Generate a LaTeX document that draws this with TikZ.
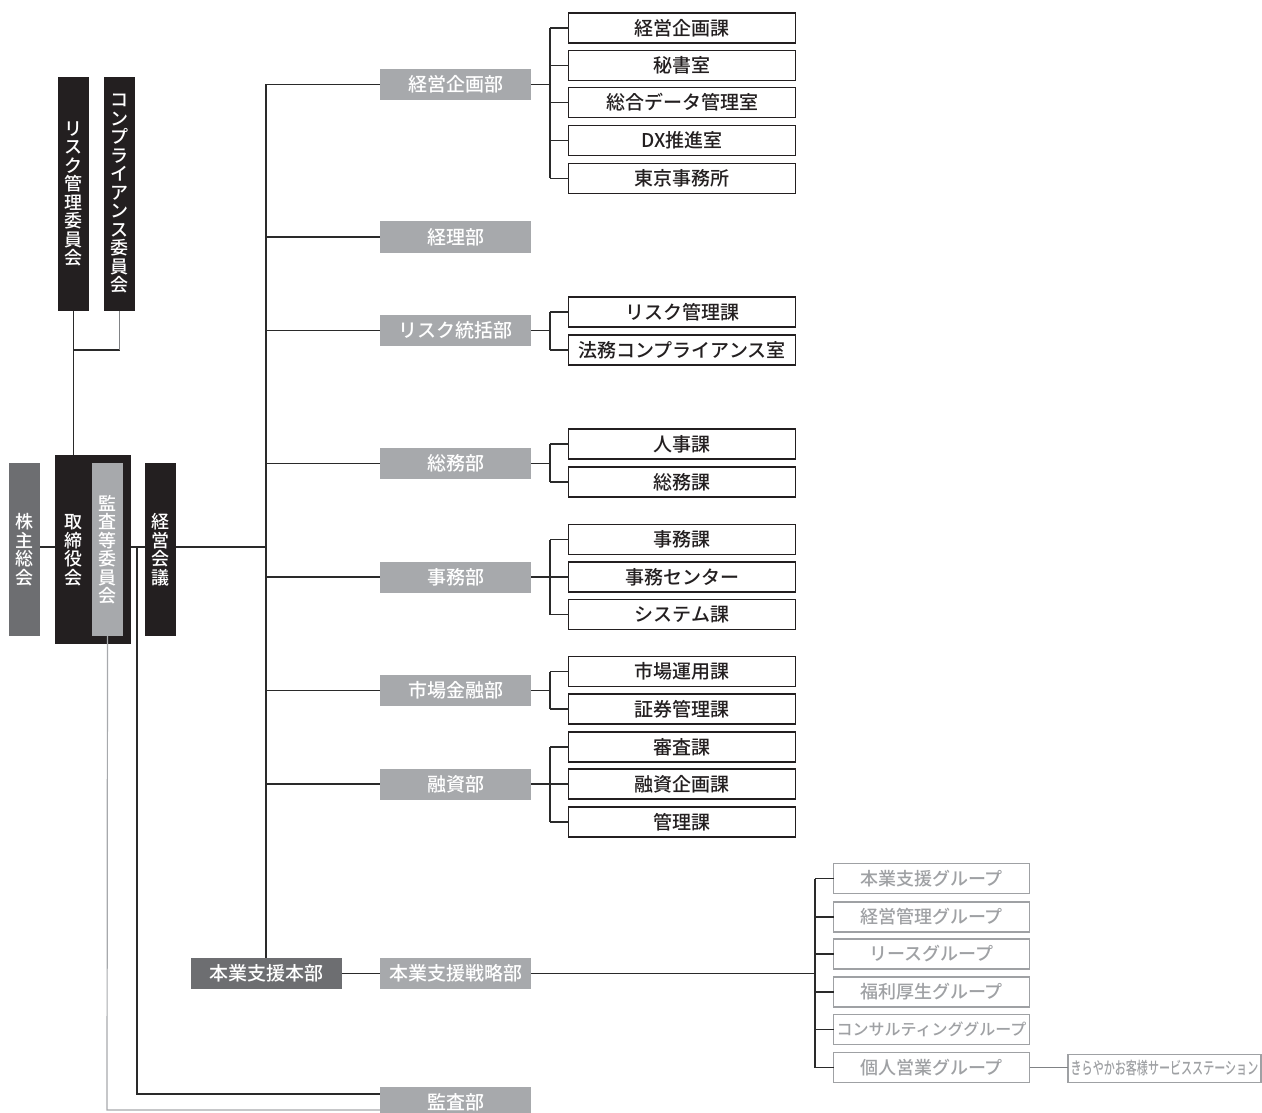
\documentclass[tikz,border=0pt]{standalone}
\usepackage{fontspec}
\newfontfamily\jp{Noto Sans CJK JP Medium}
\definecolor{kblack}{HTML}{231F20}
\definecolor{kdgray}{HTML}{6D6E71}
\definecolor{klgray}{HTML}{A7A9AC}
\definecolor{kgrp}{HTML}{9FA1A4}
\definecolor{kline}{HTML}{2A2A2A}
\definecolor{kmid}{HTML}{808285}
\begin{document}
\begin{tikzpicture}[x=1pt,y=-1pt,
  base/.style={inner sep=0pt, outer sep=0pt, font=\jp\fontsize{18}{18.5}\selectfont},
  hbase/.style={base, font=\jp\fontsize{19}{20}\selectfont},
  vbox/.style={base, minimum width=31pt, align=center},
  vblack/.style={vbox, fill=kblack, text=white},
  dept/.style={hbase, fill=klgray, text=white, minimum width=151pt, minimum height=31pt},
  honbu/.style={hbase, fill=kdgray, text=white, minimum width=151pt, minimum height=31pt},
  sec/.style={hbase, draw=kblack, line width=1.5pt, fill=white, text=kblack, minimum width=227pt, minimum height=30pt},
  grp/.style={base, draw=kgrp, line width=1.3pt, fill=white, text=kgrp, minimum width=196pt, minimum height=30pt},
  conn/.style={draw=kline, line width=1.2pt},
  gconn/.style={draw=kmid, line width=1.2pt},
  lconn/.style={draw=klgray, line width=1.2pt}
]
\useasboundingbox (0,0) rectangle (1262,1113);

% committees
\node[vblack, minimum height=234pt] (riskc) at (73.5,194) {リ\\ス\\ク\\管\\理\\委\\員\\会};
\node[vblack, minimum height=234pt] (compc) at (119.5,194) {コ\\ン\\プ\\ラ\\イ\\ア\\ン\\ス\\委\\員\\会};

% board area
\node[vbox, fill=kdgray, text=white, minimum height=173pt] (kabu) at (24.5,549.5) {株\\主\\総\\会};
\node[base, fill=kblack, minimum width=76pt, minimum height=189pt] (tori) at (93,549.5) {};
\node[base, text=white, align=center] (toritxt) at (73,550) {取\\締\\役\\会};
\node[vbox, fill=klgray, text=white, minimum height=173pt] (kansa) at (107.5,549.5) {監\\査\\等\\委\\員\\会};
\node[vblack, minimum height=173pt] (keiei) at (160.5,549.5) {経\\営\\会\\議};

% departments
\node[dept] (d1) at (455.5,84.5) {経営企画部};
\node[dept] (d2) at (455.5,237) {経理部};
\node[dept] (d3) at (455.5,330.5) {リスク統括部};
\node[dept] (d4) at (455.5,463.5) {総務部};
\node[dept] (d5) at (455.5,577) {事務部};
\node[dept] (d6) at (455.5,690.5) {市場金融部};
\node[dept] (d7) at (455.5,784) {融資部};
\node[dept] (d8) at (455.5,973.5) {本業支援戦略部};
\node[dept] (d9) at (455.5,1102.5) {監査部};
\node[honbu] (hb) at (266,973.5) {本業支援本部};

% sections
\node[sec] (s11) at (682,28) {経営企画課};
\node[sec] (s12) at (682,65.5) {秘書室};
\node[sec] (s13) at (682,102.5) {総合データ管理室};
\node[sec] (s14) at (682,140.5) {DX推進室};
\node[sec] (s15) at (682,178.5) {東京事務所};
\node[sec] (s31) at (682,312) {リスク管理課};
\node[sec] (s32) at (682,350) {法務コンプライアンス室};
\node[sec] (s41) at (682,444) {人事課};
\node[sec] (s42) at (682,482) {総務課};
\node[sec] (s51) at (682,539.5) {事務課};
\node[sec] (s52) at (682,577) {事務センター};
\node[sec] (s53) at (682,614.5) {システム課};
\node[sec] (s61) at (682,671.5) {市場運用課};
\node[sec] (s62) at (682,709) {証券管理課};
\node[sec] (s71) at (682,747) {審査課};
\node[sec] (s72) at (682,784) {融資企画課};
\node[sec] (s73) at (682,822) {管理課};

% groups
\node[grp] (g1) at (931.5,878.5) {本業支援グループ};
\node[grp] (g2) at (931.5,917) {経営管理グループ};
\node[grp] (g3) at (931.5,954) {リースグループ};
\node[grp] (g4) at (931.5,992) {福利厚生グループ};
\node[grp] (g5) at (931.5,1029.5) {\fontsize{16}{18}\selectfont コンサルティンググループ};
\node[grp] (g6) at (931.5,1067.5) {個人営業グループ};
\node[grp, minimum width=193pt, minimum height=28pt] (kira) at (1164.5,1068.5) {\scalebox{0.65}[1]{\fontsize{17}{18}\selectfont きらやかお客様サービスステーション}};

% coordinates
\coordinate (tx) at (266,0);
\coordinate (bx) at (550,0);
\coordinate (gx) at (815,0);
\coordinate (mid) at (0,547);
\coordinate (aud) at (137,547);
\coordinate (audc) at (137,1094);
\coordinate (gcorner) at (107,1110);
\coordinate (cbr) at (73,350);

% committee connectors
\draw[conn] (riskc.south) -- (tori.north-|riskc.south);
\draw[conn] (cbr) -- (cbr-|compc.south);
\draw[gconn] (cbr-|compc.south) -- (compc.south);

% board connectors
\draw[conn] (kabu.east|-mid) -- (tori.west|-mid);
\draw[conn] (tori.east|-mid) -- (keiei.west|-mid);
\draw[conn] (keiei.east|-mid) -- (tx|-mid);

% trunk
\draw[conn] (tx|-d1.west) -- (hb.north);
\foreach \d in {d1,d2,d3,d4,d5,d6,d7}{
  \draw[conn] (tx|-\d.west) -- (\d.west);
}
\draw[conn] (hb.east) -- (d8.west);

% audit lines
\draw[conn] (aud) -- (audc) -- (audc-|d9.west);
\draw[lconn] (kansa.south) -- (gcorner) -- (gcorner-|d9.west);

% section brackets
\draw[conn] (d1.east) -- (bx|-d1.east);
\draw[conn] (bx|-s11.west) -- (bx|-s15.west);
\foreach \s in {s11,s12,s13,s14,s15}{\draw[conn] (bx|-\s.west) -- (\s.west);}
\draw[conn] (d3.east) -- (bx|-d3.east);
\draw[conn] (bx|-s31.west) -- (bx|-s32.west);
\foreach \s in {s31,s32}{\draw[conn] (bx|-\s.west) -- (\s.west);}
\draw[conn] (d4.east) -- (bx|-d4.east);
\draw[conn] (bx|-s41.west) -- (bx|-s42.west);
\foreach \s in {s41,s42}{\draw[conn] (bx|-\s.west) -- (\s.west);}
\draw[conn] (d5.east) -- (bx|-d5.east);
\draw[conn] (bx|-s51.west) -- (bx|-s53.west);
\foreach \s in {s51,s52,s53}{\draw[conn] (bx|-\s.west) -- (\s.west);}
\draw[conn] (d6.east) -- (bx|-d6.east);
\draw[conn] (bx|-s61.west) -- (bx|-s62.west);
\foreach \s in {s61,s62}{\draw[conn] (bx|-\s.west) -- (\s.west);}
\draw[conn] (d7.east) -- (bx|-d7.east);
\draw[conn] (bx|-s71.west) -- (bx|-s73.west);
\foreach \s in {s71,s72,s73}{\draw[conn] (bx|-\s.west) -- (\s.west);}

% group bracket
\draw[conn] (d8.east) -- (gx|-d8.east);
\draw[conn] (gx|-g1.west) -- (gx|-g6.west);
\foreach \g in {g1,g2,g3,g4,g5,g6}{\draw[conn] (gx|-\g.west) -- (\g.west);}
\draw[gconn] (g6.east) -- (kira.west|-g6.east);
\end{tikzpicture}
\end{document}
